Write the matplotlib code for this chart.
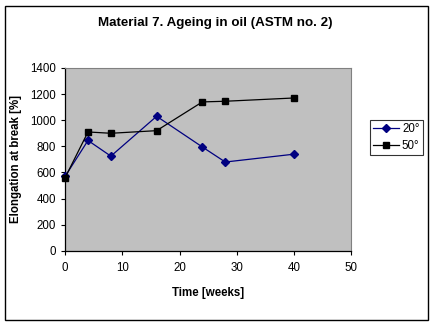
import matplotlib
matplotlib.use('Agg')
import matplotlib.pyplot as plt
from matplotlib.patches import Rectangle

plt.rcParams['font.family'] = ['Liberation Sans', 'DejaVu Sans']

weeks = [0, 4, 8, 16, 24, 28, 40]
elong_20 = [570, 845, 725, 1030, 795, 680, 740]
elong_50 = [560, 910, 900, 920, 1140, 1145, 1170]
labels = ['20°', '50°']

fig = plt.figure(figsize=(4.34, 3.25), dpi=100)
fig.patches.append(Rectangle((0.012, 0.015), 0.974, 0.968, transform=fig.transFigure,
                             fill=False, edgecolor='black', linewidth=1.0))
ax = fig.add_axes([0.150, 0.228, 0.659, 0.563])
ax.set_facecolor('#c0c0c0')

ax.plot(weeks, elong_20, color='#000080', marker='D', markersize=4.5, linewidth=0.9,
        label=labels[0], clip_on=False, zorder=3)
ax.plot(weeks, elong_50, color='black', marker='s', markersize=5, linewidth=0.9,
        label=labels[1], clip_on=False, zorder=3)

ax.set_xlim(0, 50)
ax.set_ylim(0, 1400)
ax.set_xticks(range(0, 51, 10))
ax.set_yticks(range(0, 1401, 200))
ax.tick_params(labelsize=8.3, length=3, width=0.8, direction='out')
ax.tick_params(axis='x', pad=5)
for s in ['top', 'right']:
    ax.spines[s].set_color('#808080')
    ax.spines[s].set_linewidth(0.8)
for s in ['left', 'bottom']:
    ax.spines[s].set_linewidth(0.9)

ax.set_xlabel('Time [weeks]', fontsize=8.3, fontweight='bold', labelpad=9)
ax.set_ylabel('Elongation at break [%]', fontsize=8.3, fontweight='bold', labelpad=6)
fig.text(0.497, 0.93, 'Material 7. Ageing in oil (ASTM no. 2)', ha='center', va='center',
         fontsize=9.6, fontweight='bold')

leg = ax.legend(loc='center left', bbox_to_anchor=(1.065, 0.62), fontsize=8.3, frameon=True,
                fancybox=False, edgecolor='black', handlelength=2.2, handletextpad=0.3,
                borderpad=0.3, labelspacing=0.4, borderaxespad=0)
leg.get_frame().set_linewidth(0.8)

fig.savefig('out.png', dpi=100)
